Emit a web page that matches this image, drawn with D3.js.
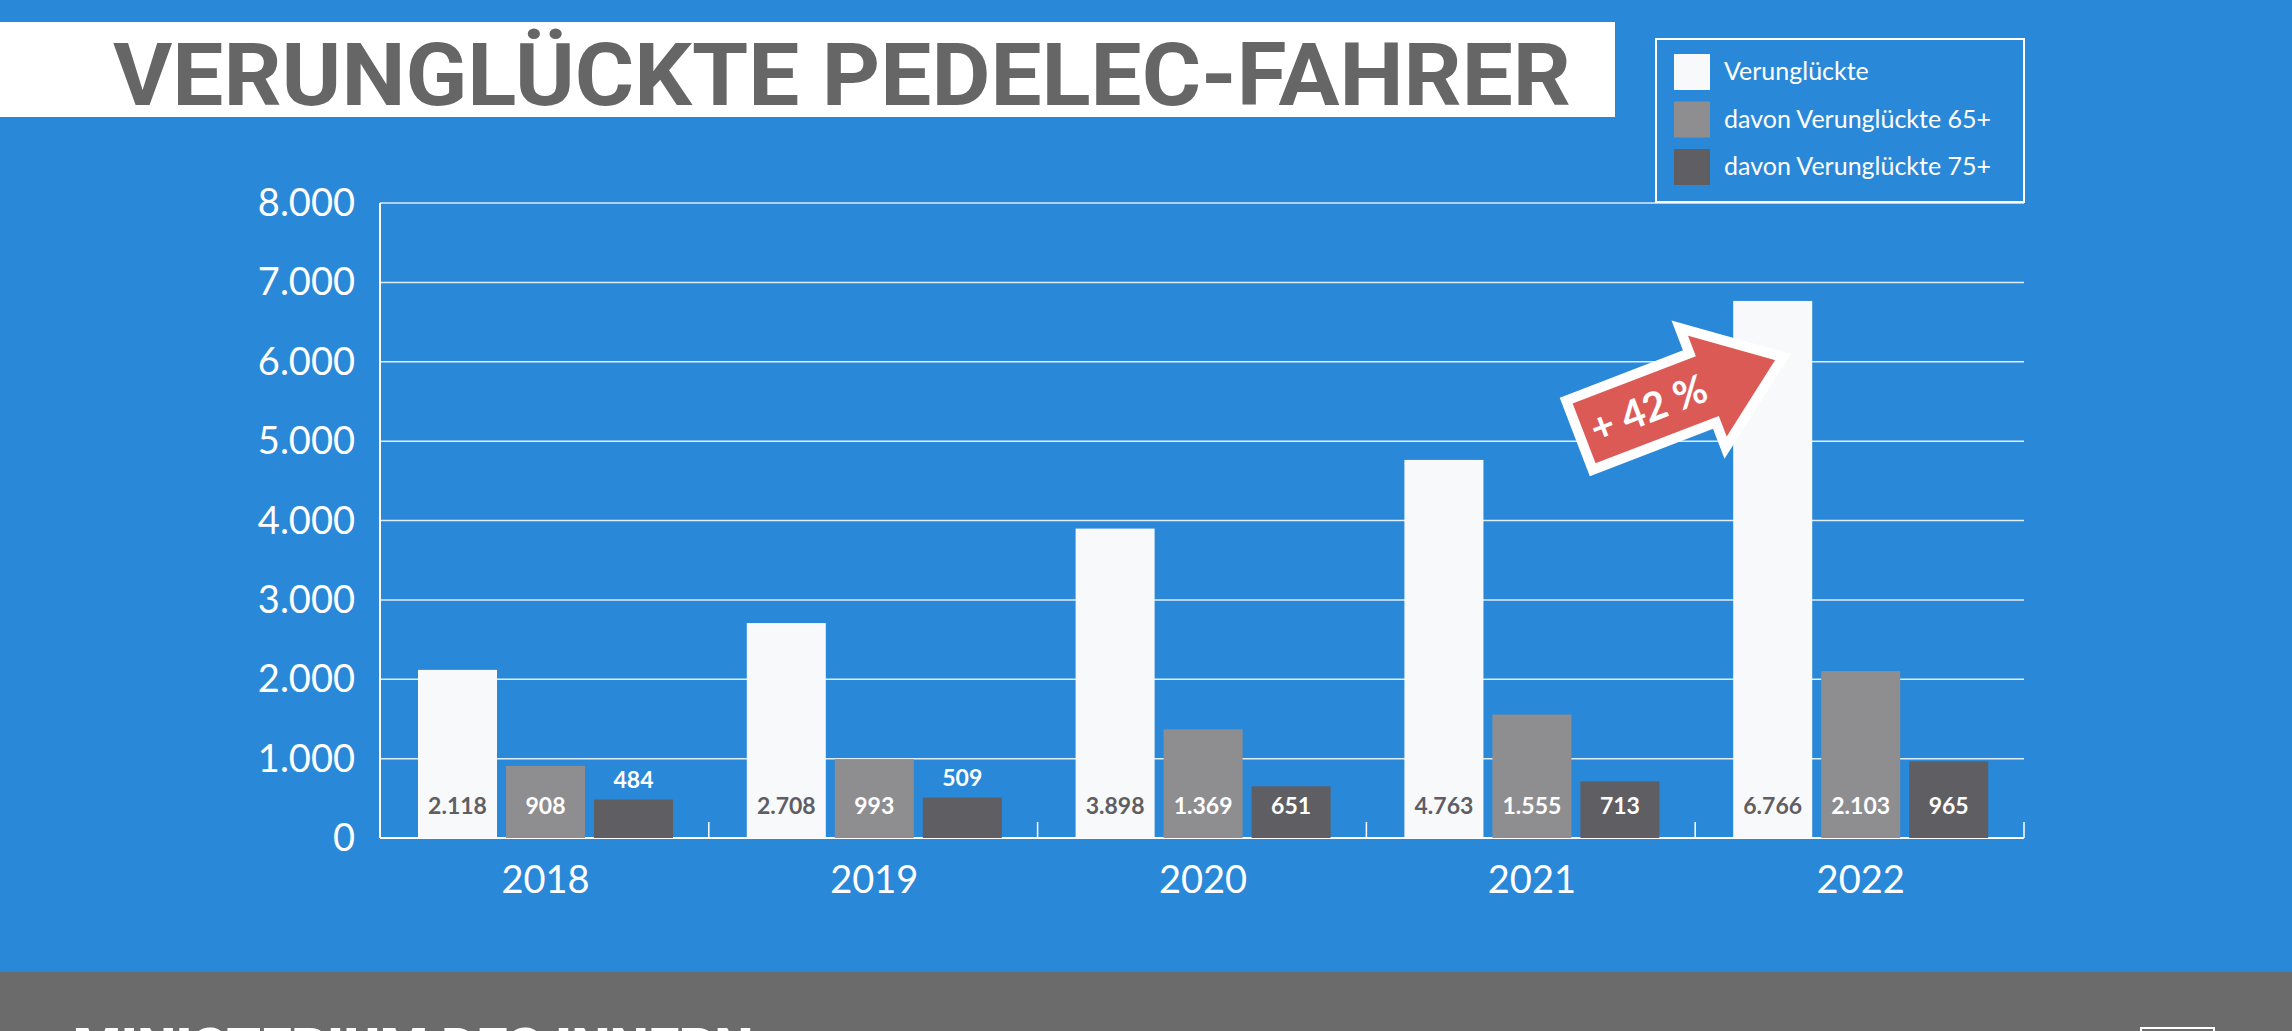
<!DOCTYPE html>
<html><head><meta charset="utf-8">
<script src="https://cdn.jsdelivr.net/npm/d3@7"></script>
<style>body{margin:0;overflow:hidden;background:#2a88d8}</style></head>
<body><svg id="c" width="2292" height="1031"></svg>
<script>
const years = ["2018","2019","2020","2021","2022"];
const seriesNames = ["Verunglückte","davon Verunglückte 65+","davon Verunglückte 75+"];
const total = [2118,2708,3898,4763,6766];
const over65 = [908,993,1369,1555,2103];
const over75 = [484,509,651,713,965];
const yTicks = [0,1000,2000,3000,4000,5000,6000,7000,8000];
const colors = ["#f8f9fa","#8e8d90","#5f5e63"];
const labelColors = ["#5f5e63","#ffffff","#ffffff"];
const series = [total, over65, over75];

const svg = d3.select("#c");
const fmt = d3.formatLocale({decimal:",",thousands:".",grouping:[3]}).format(",d");
svg.append("rect").attr("width",2292).attr("height",1031).attr("fill","#2a88d8");
svg.append("rect").attr("y",972).attr("width",2292).attr("height",59).attr("fill","#6b6b6b");
svg.append("text").attr("x",73).attr("y",1066).attr("fill","#fff").attr("font-family","Roboto").attr("font-weight",900).attr("font-size",54)
  .attr("textLength",680).attr("lengthAdjust","spacingAndGlyphs").text("MINISTERIUM DES INNERN");
svg.append("rect").attr("x",2141).attr("y",1028).attr("width",73).attr("height",20).attr("fill","none").attr("stroke","#fff").attr("stroke-width",2);

// title
svg.append("rect").attr("x",0).attr("y",22).attr("width",1615).attr("height",95).attr("fill","#fff");
svg.append("text").attr("x",113).attr("y",105).attr("fill","#666").attr("font-family","Roboto").attr("font-weight",700)
  .attr("font-size",88).attr("textLength",1458).attr("lengthAdjust","spacingAndGlyphs").text("VERUNGLÜCKTE PEDELEC-FAHRER");

const x0 = 380, x1 = 2024;
const y = d3.scaleLinear().domain([0,8000]).range([838,203]);
const x = d3.scaleBand().domain(years).range([x0, x1]).paddingInner(0).paddingOuter(0);
const xs = d3.scaleBand().domain([0,1,2]).range([38,293]).paddingInner(0.102).paddingOuter(0);

// grid
svg.append("g").selectAll("line").data(yTicks).join("line")
  .attr("x1",x0).attr("x2",x1).attr("y1",d=>y(d)).attr("y2",d=>y(d))
  .attr("stroke","#fff").attr("stroke-opacity",d=>d===0?1:0.85).attr("stroke-width",d=>d===0?2:1.5);
svg.append("line").attr("x1",x0).attr("x2",x0).attr("y1",y(8000)).attr("y2",y(0)).attr("stroke","#fff").attr("stroke-width",2);
svg.append("g").selectAll("text").data(yTicks).join("text")
  .attr("x",355).attr("y",d=>y(d)+13).attr("text-anchor","end").attr("fill","#fff")
  .attr("font-family","Lato").attr("font-size",38).text(d=>fmt(d));
svg.append("g").selectAll("line").data(years.slice(1).concat(["end"])).join("line")
  .attr("x1",d=>d==="end"?x1:x(d)).attr("x2",d=>d==="end"?x1:x(d))
  .attr("y1",y(0)).attr("y2",y(0)-16).attr("stroke","#fff").attr("stroke-width",1.5);
svg.append("g").selectAll("text").data(years).join("text")
  .attr("x",d=>x(d)+xs(1)+xs.bandwidth()/2).attr("y",893).attr("text-anchor","middle").attr("fill","#fff")
  .attr("font-family","Lato").attr("font-size",38).text(d=>d);

// bars
series.forEach((vals,si)=>{
  const g = svg.append("g");
  g.selectAll("rect").data(vals).join("rect")
    .attr("x",(d,i)=>x(years[i])+xs(si)).attr("width",xs.bandwidth())
    .attr("y",d=>y(d)).attr("height",d=>y(0)-y(d)).attr("fill",colors[si]);
  g.selectAll("text").data(vals).join("text")
    .attr("x",(d,i)=>x(years[i])+xs(si)+xs.bandwidth()/2)
    .attr("y",d=> (y(0)-y(d))<45 ? y(d)-12 : 814)
    .attr("text-anchor","middle").attr("fill",labelColors[si])
    .attr("font-family","Lato").attr("font-weight",700).attr("font-size",23).text(d=>fmt(d));
});

// legend
svg.append("rect").attr("x",1656).attr("y",39).attr("width",368).attr("height",163).attr("fill","none").attr("stroke","#fff").attr("stroke-width",2);
const lg = svg.append("g").selectAll("g").data(seriesNames).join("g").attr("transform",(d,i)=>`translate(1674,${54+i*47.5})`);
lg.append("rect").attr("width",36).attr("height",36).attr("fill",(d,i)=>colors[i]);
lg.append("text").attr("x",50).attr("y",26).attr("fill","#fff").attr("font-family","Lato").attr("font-size",25).text(d=>d);

// arrow
const ag = svg.append("g").attr("transform","translate(1684,395) rotate(-21)");
ag.append("path").attr("d","M-112,-37 L20,-37 L20,-64 L106,0 L20,64 L20,37 L-112,37 Z")
  .attr("fill","#dc5a56").attr("stroke","#fff").attr("stroke-width",10).attr("stroke-linejoin","miter");
ag.append("text").attr("x",-38).attr("y",14).attr("text-anchor","middle").attr("fill","#fff")
  .attr("font-family","Lato").attr("font-weight",700).attr("font-size",40).text("+ 42 %");
</script></body></html>
